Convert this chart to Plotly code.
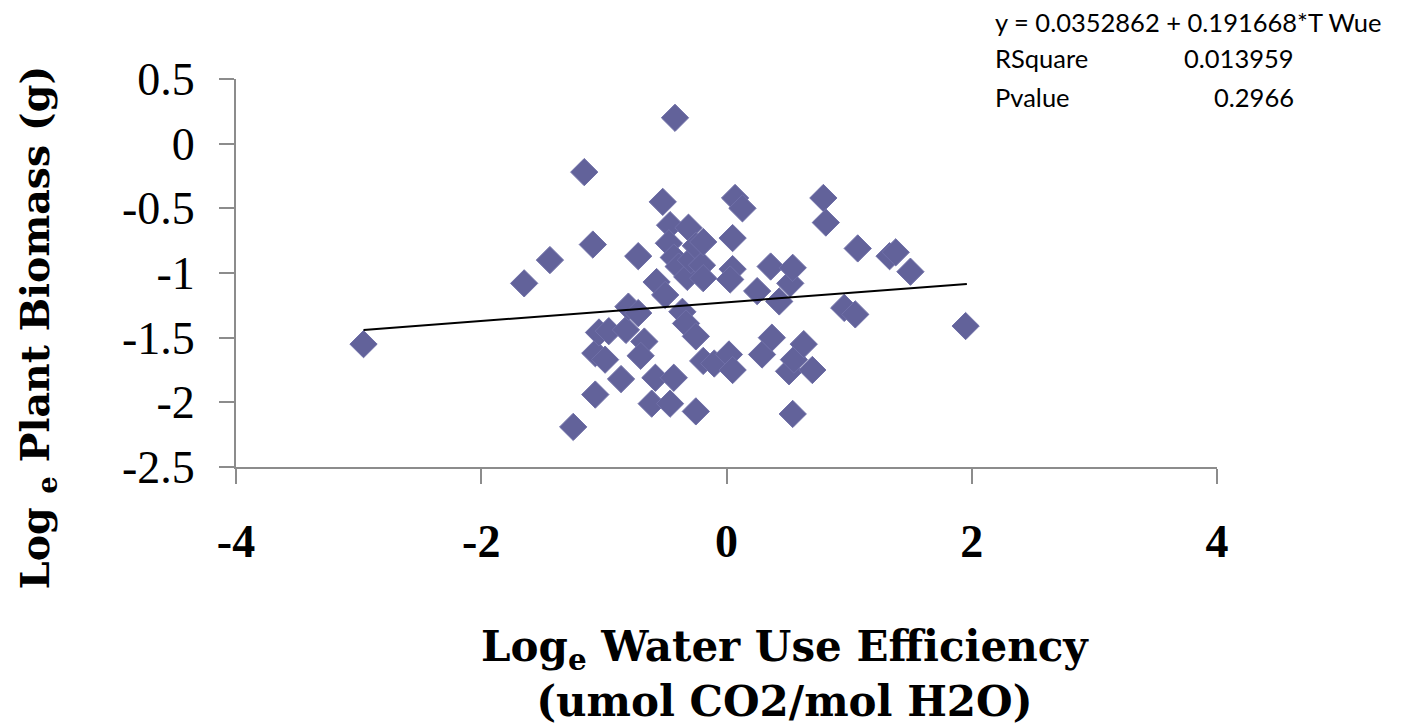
import plotly.graph_objects as go

# Scatter data (log_e WUE, log_e biomass)
wue = [-2.96, -1.65, -1.44, -1.16, -1.09, -1.25, -1.07, -1.07, -0.99, -1.04,
       -0.96, -0.86, -0.82, -0.80, -0.72, -0.72, -0.67, -0.70, -0.61, -0.58,
       -0.57, -0.50, -0.52, -0.46, -0.47, -0.43, -0.39, -0.46, -0.43, -0.42,
       -0.36, -0.33, -0.31, -0.32, -0.29, -0.25, -0.25, -0.25, -0.20, -0.19,
       -0.19, -0.19, -0.10, 0.02, 0.05, 0.05, 0.05, 0.03, 0.07, 0.13,
       0.25, 0.29, 0.36, 0.37, 0.43, 0.52, 0.54, 0.51, 0.55, 0.54,
       0.63, 0.70, 0.79, 0.81, 0.96, 1.05, 1.07, 1.33, 1.38, 1.50, 1.95]
biomass = [-1.55, -1.08, -0.90, -0.22, -0.78, -2.19, -1.94, -1.62, -1.67, -1.46,
           -1.45, -1.82, -1.44, -1.26, -1.31, -0.87, -1.53, -1.64, -2.01, -1.81,
           -1.07, -1.17, -0.45, -0.63, -0.77, -0.88, -0.95, -2.01, -1.81, 0.20,
           -1.30, -1.39, -0.65, -1.03, -0.90, -0.79, -1.49, -2.07, -0.94, -0.76,
           -1.04, -1.68, -1.70, -1.63, -1.75, -0.73, -0.97, -1.05, -0.42, -0.50,
           -1.14, -1.63, -0.95, -1.50, -1.22, -1.08, -0.96, -1.76, -1.67, -2.09,
           -1.55, -1.75, -0.42, -0.61, -1.27, -1.32, -0.81, -0.87, -0.84, -0.99, -1.41]

# Linear trendline endpoints as drawn
trend_x = [-2.96, 1.96]
trend_y = [-1.44, -1.085]

x_ticks = [-4, -2, 0, 2, 4]
x_tick_labels = ["-4", "-2", "0", "2", "4"]
y_ticks = [0.5, 0, -0.5, -1, -1.5, -2, -2.5]
y_tick_labels = ["0.5", "0", "-0.5", "-1", "-1.5", "-2", "-2.5"]

stats_rows = [("RSquare", "0.013959"), ("Pvalue", "0.2966")]
equation = "y = 0.0352862 + 0.191668*T Wue"

fig = go.Figure()
fig.add_trace(go.Scatter(
    x=wue, y=biomass, mode="markers",
    marker=dict(symbol="diamond", size=21, color="#62629A",
                line=dict(width=1, color="#7070A8")),
    showlegend=False, hoverinfo="x+y"))
fig.add_trace(go.Scatter(
    x=trend_x, y=trend_y, mode="lines",
    line=dict(color="black", width=2), showlegend=False))

serif = "DejaVu Serif"
tick_serif = "Liberation Serif"
axis_common = dict(showgrid=False, zeroline=False, showline=True,
                   linecolor="#8C8C8C", linewidth=2, ticks="outside",
                   tickcolor="#8C8C8C", tickwidth=2, ticklen=15)

fig.update_layout(
    width=1403, height=723,
    margin=dict(l=228, r=194, t=71, b=264),
    plot_bgcolor="white", paper_bgcolor="white",
    xaxis=dict(range=[-4, 4], tickvals=x_ticks, ticktext=x_tick_labels,
               ticklabelstandoff=18,
               tickfont=dict(family=tick_serif, size=46, color="black", weight="bold"),
               **axis_common),
    yaxis=dict(range=[-2.5, 0.5], tickvals=y_ticks, ticktext=y_tick_labels,
               ticklabelstandoff=15,
               tickfont=dict(family=tick_serif, size=46, color="black"),
               **axis_common),
)

ann = []
ann.append(dict(text="<b>Log<sub>e</sub> Water Use Efficiency<br>(umol CO2/mol H2O)</b>",
                xref="paper", yref="paper", x=0.5596, y=-0.533,
                xanchor="center", yanchor="middle", showarrow=False,
                font=dict(family=serif, size=42, color="black")))
ann.append(dict(text="<b>Log <sub>e</sub> Plant Biomass (g)</b>",
                xref="paper", yref="paper", x=-0.2018, y=0.358,
                xanchor="center", yanchor="middle", showarrow=False, textangle=-90,
                font=dict(family=serif, size=39.5, color="black")))
stat_font = dict(family="Lato", size=25.5, color="black")
ann.append(dict(text=equation, xref="paper", yref="paper", x=0.7717, y=1.147,
                xanchor="left", yanchor="middle", showarrow=False, font=stat_font))
row_y = [1.054, 0.954]
for (lab, val), yy in zip(stats_rows, row_y):
    ann.append(dict(text=lab, xref="paper", yref="paper", x=0.7717, y=yy,
                    xanchor="left", yanchor="middle", showarrow=False, font=stat_font))
    ann.append(dict(text=val, xref="paper", yref="paper", x=1.0805, y=yy,
                    xanchor="right", yanchor="middle", showarrow=False, font=stat_font))
fig.update_layout(annotations=ann)

fig.write_html("out.html")
